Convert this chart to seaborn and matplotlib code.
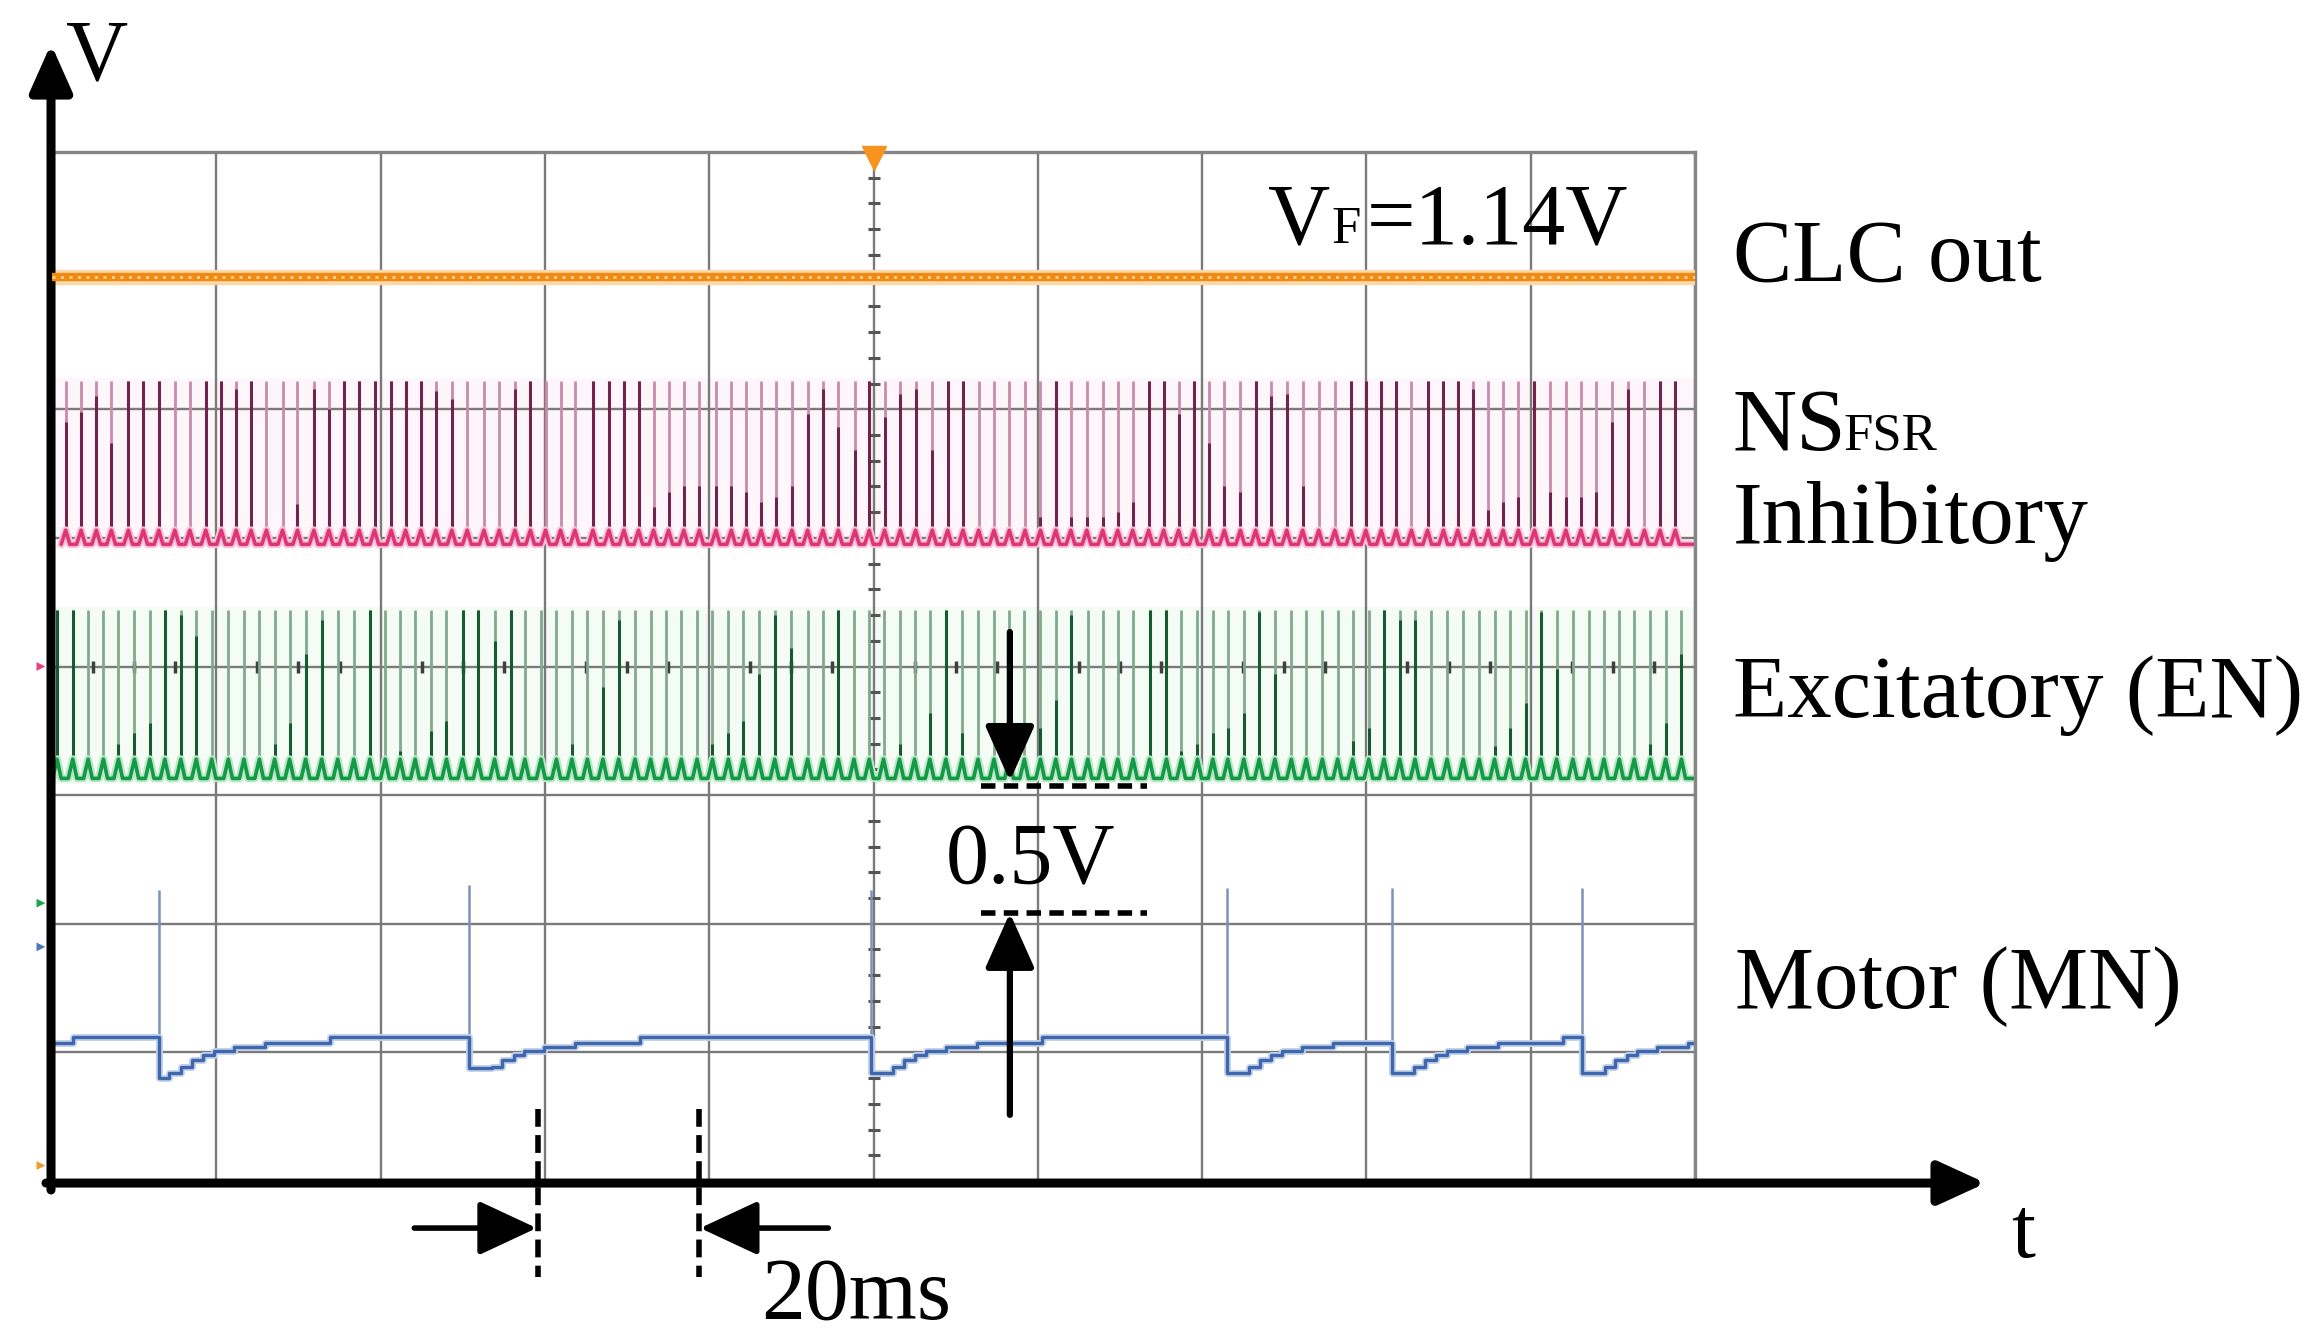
import numpy as np
import pandas as pd
import matplotlib
matplotlib.use("Agg")
import matplotlib.pyplot as plt
import seaborn as sns

# ---- scope settings: 20 ms/div (10 div), 0.5 V/div (8 div) ----
t_max = 200.0
v_max = 4.0

# CLC out (orange) flat level
clc_level = 3.515

# NS_FSR inhibitory neuron (pink): spike times (ms) and dark-trace heights (V, 0 = none)
pink_spike_t = [1.67, 3.54, 5.40, 7.22, 9.30, 11.12, 13.00, 14.95, 16.78, 18.72,
                20.60, 22.42, 24.23, 26.10, 28.06, 29.88, 31.88, 33.70, 35.53, 37.39,
                39.26, 41.29, 43.04, 44.90, 46.72, 48.67, 50.54, 52.58, 54.44, 56.35,
                58.23, 60.08, 61.91, 63.65, 65.85, 67.79, 69.62, 71.40, 73.23, 75.05,
                76.91, 78.80, 80.81, 82.69, 84.51, 86.32, 88.19, 90.07, 91.98, 93.84,
                95.71, 97.75, 99.48, 101.35, 103.26, 105.13, 107.16, 109.03, 110.89, 112.80,
                114.67, 116.53, 118.45, 120.32, 122.19, 124.01, 125.96, 127.90, 129.73, 131.55,
                133.49, 135.32, 137.14, 139.00, 140.88, 142.70, 144.66, 146.52, 148.43, 150.30,
                152.24, 154.20, 156.16, 158.10, 159.93, 161.80, 163.62, 165.48, 167.44, 169.38,
                171.12, 173.00, 174.82, 176.64, 178.50, 180.46, 182.41, 184.28, 186.10, 187.93,
                189.92, 191.83, 193.84, 195.74, 197.60]
pink_dark_v = [2.95, 2.99, 3.05, 2.87, 3.11, 3.11, 3.11, 0, 0, 3.11,
               3.11, 3.08, 3.11, 0, 0, 2.63, 3.08, 3.00, 3.11, 3.11,
               3.11, 3.11, 3.11, 3.11, 3.07, 3.04, 0, 0, 0, 3.08,
               3.11, 0, 0, 0, 3.11, 3.11, 3.11, 3.11, 2.62, 2.68,
               2.70, 2.70, 2.70, 2.70, 2.68, 2.64, 2.66, 2.70, 2.98, 3.08,
               2.93, 2.84, 3.11, 2.97, 3.06, 3.08, 2.84, 3.11, 3.11, 0,
               0, 0, 0, 2.58, 3.11, 2.58, 2.58, 2.58, 2.60, 2.64,
               3.11, 3.11, 2.98, 3.11, 2.87, 2.70, 2.68, 3.11, 3.05, 3.06,
               2.70, 0, 0, 3.11, 3.11, 3.11, 3.11, 0, 3.11, 3.11,
               3.11, 3.08, 2.61, 2.64, 2.66, 3.11, 2.68, 2.66, 2.66, 2.68,
               2.95, 3.08, 0, 3.11, 3.11]
pink_low, pink_top, pink_peak = 2.475, 2.53, 3.11

# Excitatory neuron EN (green)
green_spike_t = [0.62, 2.53, 4.40, 6.26, 8.09, 10.04, 11.91, 13.74, 15.68, 17.56,
                 19.45, 21.46, 23.37, 25.24, 27.10, 28.92, 30.88, 32.83, 34.78, 36.74,
                 38.69, 40.56, 42.38, 44.21, 46.08, 48.02, 49.97, 51.84, 53.88, 55.83,
                 57.57, 59.53, 61.40, 63.29, 65.17, 67.06, 68.97, 70.97, 72.87, 74.75,
                 76.61, 78.52, 80.39, 82.33, 84.16, 86.03, 87.98, 89.93, 91.98, 93.84,
                 95.71, 97.62, 99.48, 101.22, 103.17, 105.00, 106.86, 108.81, 110.77, 112.72,
                 114.67, 116.53, 118.36, 120.32, 122.19, 124.10, 126.09, 127.91, 129.73, 131.60,
                 133.60, 135.66, 137.48, 139.44, 141.31, 143.13, 145.08, 146.95, 148.86, 150.86,
                 152.68, 154.64, 156.50, 158.32, 160.28, 162.14, 164.05, 165.92, 167.87, 169.82,
                 171.78, 173.73, 175.60, 177.42, 179.37, 181.24, 183.15, 185.14, 187.05, 188.92,
                 190.78, 192.60, 194.57, 196.43, 198.35]
green_dark_v = [2.22, 2.22, 0, 1.65, 1.70, 1.74, 1.78, 2.22, 2.20, 2.12,
                0, 0, 0, 0, 1.70, 1.78, 2.05, 2.18, 0, 0,
                2.22, 0, 1.67, 0, 1.75, 1.79, 2.22, 2.22, 2.10, 2.22,
                0, 0, 1.65, 1.70, 0, 1.92, 2.18, 0, 0, 0,
                0, 1.65, 1.70, 1.74, 1.79, 1.97, 2.20, 2.07, 0, 0,
                2.22, 0, 0, 1.65, 1.70, 0, 1.82, 2.22, 1.74, 0,
                0, 0, 0, 1.76, 1.87, 2.20, 0, 0, 0, 0,
                2.22, 2.22, 1.67, 1.70, 1.74, 1.76, 1.82, 2.21, 1.97, 0,
                0, 0, 1.65, 1.71, 1.76, 2.22, 2.18, 2.18, 0, 0,
                0, 1.65, 1.69, 1.76, 1.86, 2.21, 1.99, 0, 0, 0,
                0, 1.65, 1.70, 1.78, 2.05]
green_low, green_top, green_peak = 1.565, 1.64, 2.22

# Motor neuron MN (blue)
blue_spike_t = [13.0, 50.8, 99.7, 143.0, 163.1, 186.3]
blue_spike_v = [1.13, 1.15, 1.13, 1.14, 1.14, 1.14]
blue_dip_v = [0.40, 0.44, 0.42, 0.42, 0.42, 0.42]
blue_step_dt = [0.0, 1.3, 2.7, 4.0, 5.4, 6.7, 9.1, 12.9, 20.8]
blue_step_v = [0.40, 0.42, 0.445, 0.47, 0.49, 0.505, 0.52, 0.535, 0.558]
blue_start_t = [0.0, 2.5]
blue_start_v = [0.535, 0.558]

# channel ground markers on the left edge
chan_marker_v = [2.0, 1.08, 0.91, 0.06]
chan_marker_c = ["#e8407f", "#1aa64f", "#4a78c0", "#f39a2e"]


def ripple_frame(spikes, low, top):
    # small hump under every spike, flat baseline between them
    xs, ys = [spikes[0] - 0.55], [low]
    for s in spikes:
        xs += [s - 0.55, s, s + 0.5]
        ys += [low, top, low]
    xs.append(t_max)
    ys.append(low)
    return pd.DataFrame({"t": xs, "v": ys})


def blue_frame():
    bt, bv = list(blue_start_t), list(blue_start_v)
    for i, s in enumerate(blue_spike_t):
        nxt = blue_spike_t[i + 1] if i + 1 < len(blue_spike_t) else t_max
        for dt, lv in zip(blue_step_dt, blue_step_v):
            if s + dt < nxt:
                bt.append(s + dt)
                bv.append(blue_dip_v[i] if dt == 0 else max(lv, blue_dip_v[i]))
    bt.append(t_max)
    bv.append(bv[-1])
    return pd.DataFrame({"t": bt, "v": bv})


sns.set_theme(style="white")
plt.rcParams["font.family"] = ["Liberation Serif", "DejaVu Serif"]
plt.rcParams["text.color"] = "black"

W, H = 2317, 1335
fig = plt.figure(figsize=(W / 100, H / 100), dpi=100)
ax = fig.add_axes([52 / W, 1 - 1181 / H, 1643 / W, 1029 / H])

# graticule
ax.set_xlim(0, t_max)
ax.set_ylim(0, v_max)
ax.set_xticks(np.arange(0, t_max + 1, 20))
ax.set_yticks(np.arange(0, v_max + 0.01, 0.5))
ax.tick_params(length=0, labelbottom=False, labelleft=False)
ax.grid(True, color="#7a7a7a", lw=1.7)
ax.set_axisbelow(True)
for sp in ax.spines.values():
    sp.set_color("#858585")
    sp.set_linewidth(2.4)

vt = np.arange(0.1, v_max, 0.1)
vt = vt[np.abs(vt / 0.5 - np.round(vt / 0.5)) > 0.01]
ax.plot([100] * len(vt), vt, ls="none", marker="_", ms=9, mew=2.2, color="#555555", zorder=1.2)
ht = np.arange(5, t_max, 5)
ht = ht[ht % 20 != 0]
ax.plot(ht, [2.0] * len(ht), ls="none", marker="|", ms=8, mew=2.5, color="#3f3f3f", zorder=1.2)

# faint persistence bands behind the spiking traces
ax.axhspan(pink_low - 0.02, pink_peak + 0.01, color="#fef6fa", zorder=0.3, lw=0)
ax.axhspan(green_low - 0.02, green_peak + 0.01, color="#f5fcf6", zorder=0.3, lw=0)

# CLC out
clc = pd.DataFrame({"t": [0, t_max], "v": [clc_level, clc_level]})
sns.lineplot(data=clc, x="t", y="v", ax=ax, color="#fcd7a8", lw=11, zorder=3)
sns.lineplot(data=clc, x="t", y="v", ax=ax, color="#f28a12", lw=6, zorder=3.1)
ax.plot(clc["t"], clc["v"], color="#ffd9a3", lw=1.8, ls=(0, (1.2, 2.2)), zorder=3.2)

# spiking neurons
for spikes, dark, low, top, peak, light_c, dark_c, base_c, halo_c in [
    (pink_spike_t, pink_dark_v, pink_low, pink_top, pink_peak, "#c98ba6", "#72234a", "#df3476", "#f6c3d8"),
    (green_spike_t, green_dark_v, green_low, green_top, green_peak, "#80a98d", "#155a31", "#129a46", "#bde6c7"),
]:
    st = np.array(spikes)
    dv = np.array(dark)
    ax.vlines(st, top, peak, color=light_c, lw=2.0, zorder=2)
    ax.vlines(st[dv > 0], top, dv[dv > 0], color=dark_c, lw=2.2, zorder=2.2)
    rf = ripple_frame(spikes, low, top)
    sns.lineplot(data=rf, x="t", y="v", ax=ax, estimator=None, sort=False, color=halo_c, lw=5.5, zorder=2.4)
    sns.lineplot(data=rf, x="t", y="v", ax=ax, estimator=None, sort=False, color=base_c, lw=2.6, zorder=2.5)

# motor neuron
ax.vlines(blue_spike_t, blue_dip_v, blue_spike_v, color="#7d91bb", lw=1.8, zorder=2)
bf = blue_frame()
sns.lineplot(data=bf, x="t", y="v", ax=ax, estimator=None, sort=False, color="#c4d2ea",
             lw=5, drawstyle="steps-post", zorder=2.4)
sns.lineplot(data=bf, x="t", y="v", ax=ax, estimator=None, sort=False, color="#3e67ad",
             lw=2.4, drawstyle="steps-post", zorder=2.5)

ax.set_xlabel("")
ax.set_ylabel("")

# scope markers
ax.plot(100, 3.975, marker="v", ms=17, color="#f7941d", clip_on=False, zorder=4)
ax.scatter([-1.35] * len(chan_marker_v), chan_marker_v, marker=">", s=40, c=chan_marker_c,
           clip_on=False, zorder=4, lw=0)


def arrow(tip, tail, lw, hl, hw, ms=40):
    ax.annotate("", xy=tip, xytext=tail, xycoords="data", annotation_clip=False,
                arrowprops=dict(arrowstyle=f"-|>,head_length={hl},head_width={hw}",
                                mutation_scale=ms, lw=lw, color="black",
                                shrinkA=0, shrinkB=0))


# V and t axes
arrow((-0.12, 4.42), (-0.12, -0.035), 6.5, 0.72, 0.32)
arrow((235.4, -0.008), (-0.73, -0.008), 6.5, 0.72, 0.33)
ax.text(1.7, 4.28, "V", fontsize=62, ha="left", va="baseline")
ax.text(238.5, -0.295, "t", fontsize=62, ha="left", va="baseline")

# 0.5 V marker
for lvl in [1.535, 1.041]:
    ax.plot([113.1, 133.3], [lvl, lvl], color="black", lw=4.0, ls=(0, (2.6, 1.5)),
            solid_capstyle="butt", dash_capstyle="butt", clip_on=False, zorder=5)
arrow((116.6, 1.555), (116.6, 2.134), 4.5, 0.85, 0.38)
arrow((116.6, 1.042), (116.6, 0.257), 4.5, 0.85, 0.38)
ax.text(108.8, 1.158, "0.5V", fontsize=62, ha="left", va="baseline")

# 20 ms marker
for xv in [59.1, 78.8]:
    ax.plot([xv, xv], [0.28, -0.373], color="black", lw=4.0, ls=(0, (3.2, 1.5)),
            dash_capstyle="butt", clip_on=False, zorder=5)
arrow((59.0, -0.183), (44.1, -0.183), 4.0, 0.9, 0.42)
arrow((78.9, -0.183), (94.5, -0.183), 4.0, 0.9, 0.42)
ax.text(86.3, -0.533, "20ms", fontsize=63, ha="left", va="baseline")

# V_F readout
ax.text(148.0, 3.646, "V", fontsize=62, ha="left", va="baseline")
ax.text(155.8, 3.646, "F", fontsize=38, ha="left", va="baseline")
ax.text(160.1, 3.646, "=1.14V", fontsize=62, ha="left", va="baseline")

# channel labels
ax.text(204.6, 3.502, "CLC out", fontsize=64, ha="left", va="baseline")
ax.text(204.6, 2.842, "NS", fontsize=64, ha="left", va="baseline")
ax.text(218.1, 2.842, "FSR", fontsize=38, ha="left", va="baseline")
ax.text(204.6, 2.480, "Inhibitory", fontsize=64, ha="left", va="baseline")
ax.text(204.6, 1.804, "Excitatory (EN)", fontsize=64, ha="left", va="baseline")
ax.text(204.9, 0.672, "Motor (MN)", fontsize=64, ha="left", va="baseline")

fig.savefig("out.png", dpi=100)
plt.close(fig)
